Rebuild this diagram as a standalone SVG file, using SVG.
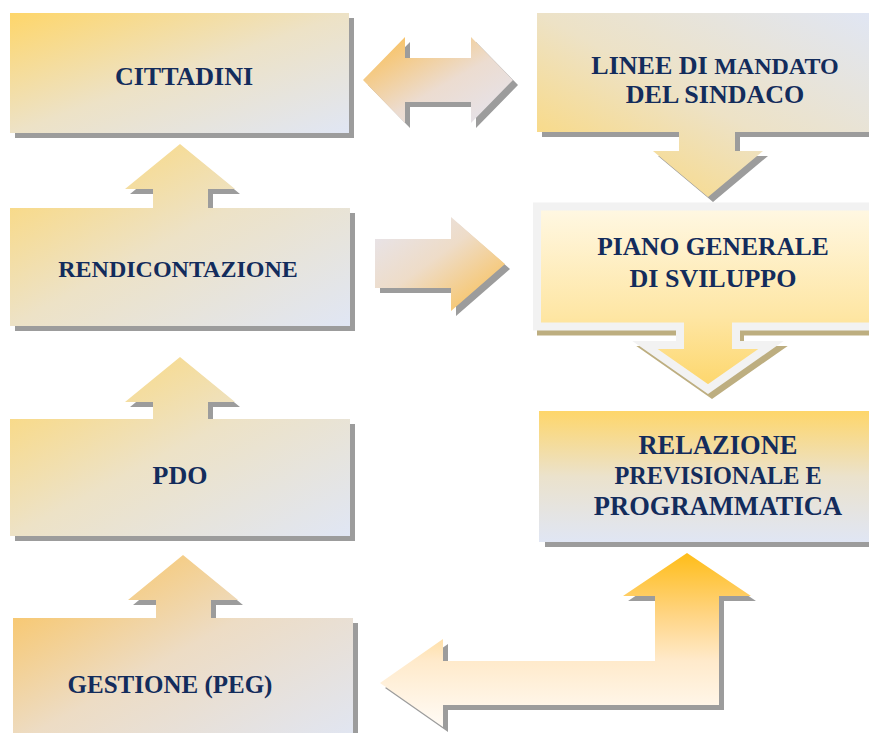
<svg xmlns="http://www.w3.org/2000/svg" xmlns:xlink="http://www.w3.org/1999/xlink" width="869" height="733" viewBox="0 0 869 733">
<style>
.t{font-family:"Liberation Serif","Times New Roman",serif;font-weight:bold;fill:#132c5c;text-anchor:middle}
.sh{fill:#9c9c9c}
</style>
<defs>
<linearGradient id="gY" x1="0" y1="0" x2="1" y2="1"><stop offset="0" stop-color="#fed66a"/><stop offset="0.5" stop-color="#ede2c6"/><stop offset="1" stop-color="#e0e6f4"/></linearGradient>
<linearGradient id="gO" x1="0" y1="0" x2="1" y2="1"><stop offset="0" stop-color="#fcbf4c"/><stop offset="0.5" stop-color="#eddcc4"/><stop offset="1" stop-color="#e0e6f4"/></linearGradient>
<linearGradient id="gL" x1="0" y1="1" x2="1" y2="0"><stop offset="0" stop-color="#fed66a"/><stop offset="0.5" stop-color="#ede2c6"/><stop offset="1" stop-color="#e0e6f4"/></linearGradient>
<linearGradient id="gV" x1="0" y1="0" x2="0" y2="1"><stop offset="0" stop-color="#fed66a"/><stop offset="0.5" stop-color="#ebe2cc"/><stop offset="1" stop-color="#e0e6f4"/></linearGradient>
<linearGradient id="gP" x1="0" y1="0" x2="0" y2="1"><stop offset="0" stop-color="#fff8e4"/><stop offset="0.6" stop-color="#fee6a4"/><stop offset="1" stop-color="#fdd66a"/></linearGradient>
<linearGradient id="gD" x1="0" y1="0" x2="1" y2="1"><stop offset="0" stop-color="#fbbc4a"/><stop offset="0.55" stop-color="#ecdcd0"/><stop offset="1" stop-color="#e4e4f0"/></linearGradient>
<linearGradient id="gR" x1="0" y1="0" x2="1" y2="1"><stop offset="0" stop-color="#e6e5f0"/><stop offset="0.45" stop-color="#eedcc8"/><stop offset="1" stop-color="#fbbd48"/></linearGradient>
<linearGradient id="gU" x1="0" y1="0" x2="0" y2="1"><stop offset="0" stop-color="#ffbd18"/><stop offset="0.35" stop-color="#ffd482"/><stop offset="0.62" stop-color="#ffeacb"/><stop offset="1" stop-color="#fffbf6"/></linearGradient>
<path id="pCit" d="M10,13 H349 V133 H10 Z"/>
<path id="pLin" d="M537,13 H875 V132 H735 V151 H763 L708,197 L653,151 H679 V132 H537 Z"/>
<path id="pRen" d="M10,208 H153 V189 H125 L180,144 L235,189 H208 V208 H350 V326 H10 Z"/>
<path id="pPia" d="M537,206.5 H880 V326.5 H736 V345 H771 L708,389 L645,345 H680 V326.5 H537 Z"/>
<path id="pPdo" d="M10,419 H153 V402 H125 L180,357 L235,402 H208 V419 H350 V536 H10 Z"/>
<path id="pRel" d="M539,411 H875 V542 H539 Z"/>
<path id="pGes" d="M13,618 H156 V600 H128 L183,555 L238,600 H211 V618 H353 V745 H13 Z"/>
<path id="aDbl" d="M363,80 L405,37 V58 H471 V37 L513,80 L471,123 V102 H405 V123 Z"/>
<path id="aRgt" d="M375,239 H451 V217 L505,264 L451,311 V288 H375 Z"/>
<path id="aL" d="M687,553 L751,596 H719 V705 H443 V727 L380,683 L443,639 V661 H655 V596 H623 Z"/>
</defs>
<g id="connectors">
<use xlink:href="#aDbl" class="sh" transform="translate(5,5)"/>
<use xlink:href="#aDbl" fill="url(#gD)"/>
<use xlink:href="#aRgt" class="sh" transform="translate(5,5)"/>
<use xlink:href="#aRgt" fill="url(#gR)"/>
<use xlink:href="#aL" class="sh" transform="translate(5,5)"/>
<use xlink:href="#aL" fill="url(#gU)"/>
</g>
<g id="cittadini">
<use xlink:href="#pCit" class="sh" transform="translate(5,5)"/>
<use xlink:href="#pCit" fill="url(#gY)"/>
<text class="t" x="184" y="85" font-size="26">CITTADINI</text>
</g>
<g id="linee">
<use xlink:href="#pLin" class="sh" transform="translate(5,5)"/>
<use xlink:href="#pLin" fill="url(#gL)"/>
<text class="t" x="715" y="74" font-size="26">LINEE DI <tspan font-size="24">MANDATO</tspan></text>
<text class="t" x="715" y="103" font-size="26">DEL SINDACO</text>
</g>
<g id="rendicontazione">
<use xlink:href="#pRen" class="sh" transform="translate(5,5)"/>
<use xlink:href="#pRen" fill="url(#gY)"/>
<text class="t" x="178" y="277" font-size="24">RENDICONTAZIONE</text>
</g>
<g id="piano">
<use xlink:href="#pPia" fill="#bdae80" stroke="#bdae80" stroke-width="8" transform="translate(4,5)"/>
<use xlink:href="#pPia" fill="url(#gP)" stroke="#f2f2f2" stroke-width="8"/>
<text class="t" x="713" y="255" font-size="25.5">PIANO GENERALE</text>
<text class="t" x="713" y="287" font-size="26">DI SVILUPPO</text>
</g>
<g id="pdo">
<use xlink:href="#pPdo" class="sh" transform="translate(5,5)"/>
<use xlink:href="#pPdo" fill="url(#gY)"/>
<text class="t" x="180" y="484" font-size="26">PDO</text>
</g>
<g id="relazione">
<use xlink:href="#pRel" class="sh" transform="translate(6,5)"/>
<use xlink:href="#pRel" fill="url(#gV)"/>
<text class="t" x="718" y="454" font-size="26.5">RELAZIONE</text>
<text class="t" x="718" y="484" font-size="24.3">PREVISIONALE E</text>
<text class="t" x="718" y="515" font-size="26.5">PROGRAMMATICA</text>
</g>
<g id="gestione">
<use xlink:href="#pGes" class="sh" transform="translate(5,5)"/>
<use xlink:href="#pGes" fill="url(#gO)"/>
<text class="t" x="170" y="693" font-size="25">GESTIONE (PEG)</text>
</g>
</svg>
